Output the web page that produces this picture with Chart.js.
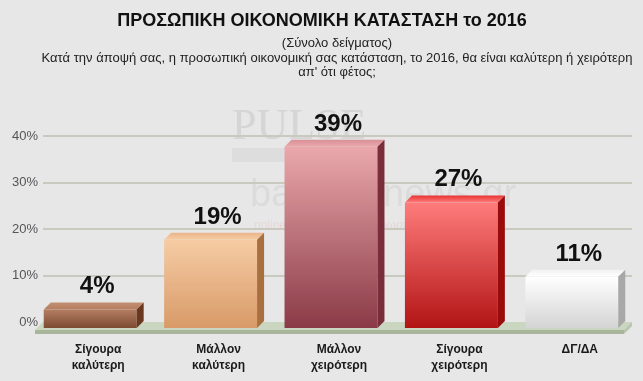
<!DOCTYPE html>
<html><head><meta charset="utf-8">
<script src="https://cdn.jsdelivr.net/npm/chart.js@4/dist/chart.umd.min.js"></script>
<style>html,body{margin:0;padding:0;background:#e7e7e7;}#wrap{width:643px;height:381px;}</style>
</head><body><div id="wrap"><canvas id="c" width="643" height="381"></canvas></div>
<script>
const titleText = "ΠΡΟΣΩΠΙΚΗ ΟΙΚΟΝΟΜΙΚΗ ΚΑΤΑΣΤΑΣΗ το 2016";
const subtitleLines = ["(Σύνολο δείγματος)", "Κατά την άποψή σας, η προσωπική οικονομική σας κατάσταση, το 2016, θα είναι καλύτερη ή χειρότερη", "απ' ότι φέτος;"];
const categories = [["Σίγουρα","καλύτερη"],["Μάλλον","καλύτερη"],["Μάλλον","χειρότερη"],["Σίγουρα","χειρότερη"],["ΔΓ/ΔΑ"]];
const values = [4, 19, 39, 27, 11];
const yTicks = [0, 10, 20, 30, 40];
const palette = [
  {top:'#b47e62', bottom:'#7c4a32', lid:'#c48e70', side:'#6a3820'},
  {top:'#f6cca4', bottom:'#d89a68', lid:'#eab48a', side:'#a8703e'},
  {top:'#eaa8ac', bottom:'#8a3a46', lid:'#d89096', side:'#7a2e3a'},
  {top:'#ff7c7c', bottom:'#b21414', lid:'#e83232', side:'#9a0c0c'},
  {top:'#ffffff', bottom:'#d4d4d4', lid:'#f2f2f2', side:'#a8a8a8'}
];
const SHIFT_X = -8, SHIFT_Y = 6, DX = 7, DY = 7;

const headerPlugin = {
  id:'header',
  beforeDraw(chart){
    const ctx = chart.ctx;
    ctx.save();
    ctx.fillStyle = '#e7e7e7';
    ctx.fillRect(0,0,chart.width,chart.height);
    ctx.textAlign='center'; ctx.textBaseline='middle';
    ctx.fillStyle='#111';
    ctx.font='bold 18px "Liberation Sans", Arial, sans-serif';
    ctx.fillText(titleText, 322, 21);
    ctx.font='13px "Liberation Sans", Arial, sans-serif';
    ctx.fillStyle='#222';
    const ys=[43,58,72];
    subtitleLines.forEach((t,i)=>ctx.fillText(t, 337, ys[i]));
    // faint watermarks
    ctx.globalAlpha=0.12;
    ctx.fillStyle='#555';
    ctx.font='44px "Liberation Serif", serif';
    ctx.textAlign='left';
    ctx.fillText('PULSE', 232, 127);
    ctx.globalAlpha=0.06;
    ctx.fillStyle='#444';
    ctx.fillRect(232,148,150,14);
    ctx.globalAlpha=0.10;
    ctx.fillStyle='#777';
    ctx.font='38px "Liberation Sans Narrow", "Liberation Sans", sans-serif';
    ctx.fillText('bankingnews.gr', 250, 196);
    ctx.font='12px "Liberation Sans", sans-serif';
    ctx.fillStyle='#c44';
    ctx.fillText('online οικονομική ενημέρωση', 254, 226);
    ctx.restore();
  },
  beforeDatasetsDraw(chart){
    const ctx = chart.ctx, y = chart.scales.y;
    ctx.save();
    const y0 = y.getPixelForValue(0);
    const fl = 43, fr = 632;
    ctx.fillStyle='#cbd6c0';
    ctx.beginPath();
    ctx.moveTo(fl, y0); ctx.lineTo(fr, y0); ctx.lineTo(fr-8, y0+8); ctx.lineTo(fl-8, y0+8); ctx.closePath(); ctx.fill();
    ctx.fillStyle='#a9b69c';
    ctx.fillRect(fl-8, y0+8, fr-fl, 4);
    ctx.fillStyle='#b8c4ac';
    ctx.beginPath(); ctx.moveTo(fr,y0); ctx.lineTo(fr,y0+4); ctx.lineTo(fr-8,y0+12); ctx.lineTo(fr-8,y0+8); ctx.closePath(); ctx.fill();
    ctx.strokeStyle='#c9c9bf'; ctx.lineWidth=2;
    yTicks.forEach(v=>{ if(v===0) return; const py=Math.round(y.getPixelForValue(v));
      ctx.beginPath(); ctx.moveTo(fl,py); ctx.lineTo(fr,py); ctx.stroke(); });
    ctx.restore();
    ctx.save();
    ctx.translate(SHIFT_X, SHIFT_Y);
    const meta = chart.getDatasetMeta(0);
    meta.data.forEach((bar,i)=>{
      const p = palette[i];
      const g = ctx.createLinearGradient(0, bar.y, 0, bar.base);
      g.addColorStop(0,p.top); g.addColorStop(1,p.bottom);
      bar.options.backgroundColor = g;
    });
  },
  afterDatasetsDraw(chart){
    const ctx = chart.ctx;
    const meta = chart.getDatasetMeta(0);
    meta.data.forEach((bar,i)=>{
      const p = palette[i];
      const l = bar.x - bar.width/2, r = bar.x + bar.width/2, t = bar.y, b = bar.base;
      const gl = ctx.createLinearGradient(0, t-DY, 0, t);
      gl.addColorStop(0, p.lid); gl.addColorStop(1, p.top);
      ctx.fillStyle = gl;
      ctx.beginPath(); ctx.moveTo(l,t); ctx.lineTo(r,t); ctx.lineTo(r+DX,t-DY); ctx.lineTo(l+DX,t-DY); ctx.closePath(); ctx.fill();
      ctx.fillStyle = p.side;
      ctx.beginPath(); ctx.moveTo(r,t); ctx.lineTo(r+DX,t-DY); ctx.lineTo(r+DX,b-DY); ctx.lineTo(r,b); ctx.closePath(); ctx.fill();
      ctx.fillStyle='#111';
      ctx.font='bold 24px "Liberation Sans", Arial, sans-serif';
      ctx.textAlign='center'; ctx.textBaseline='alphabetic';
      ctx.fillText(values[i]+'%', bar.x+7, t-16);
    });
    ctx.restore();
  }
};

new Chart(document.getElementById('c'), {
  type:'bar',
  data:{ labels: categories, datasets:[{ data: values, backgroundColor: palette.map(p=>p.top), borderWidth:0, barPercentage:0.772, categoryPercentage:1 }]},
  options:{
    responsive:false, animation:false, devicePixelRatio:1,
    layout:{ padding:{ top:136, right:3, left:0, bottom:6 } },
    plugins:{ legend:{display:false}, tooltip:{enabled:false}, title:{display:false} },
    scales:{
      x:{ afterFit(s){ s.height = 53; }, grid:{display:false, drawTicks:false}, border:{display:false},
          ticks:{ color:'#1a1a1a', font:{family:'"Liberation Sans", Arial, sans-serif', size:12, weight:'bold', lineHeight:1.3}, padding:20, maxRotation:0 } },
      y:{ min:0, max:40, afterFit(s){ s.width = 38; },
          grid:{display:false, drawTicks:false}, border:{display:false},
          ticks:{ stepSize:10, padding:0, color:'#555', font:{family:'"Liberation Sans", Arial, sans-serif', size:13}, callback:v=>v+'%' } }
    }
  },
  plugins:[headerPlugin]
});
</script></body></html>
